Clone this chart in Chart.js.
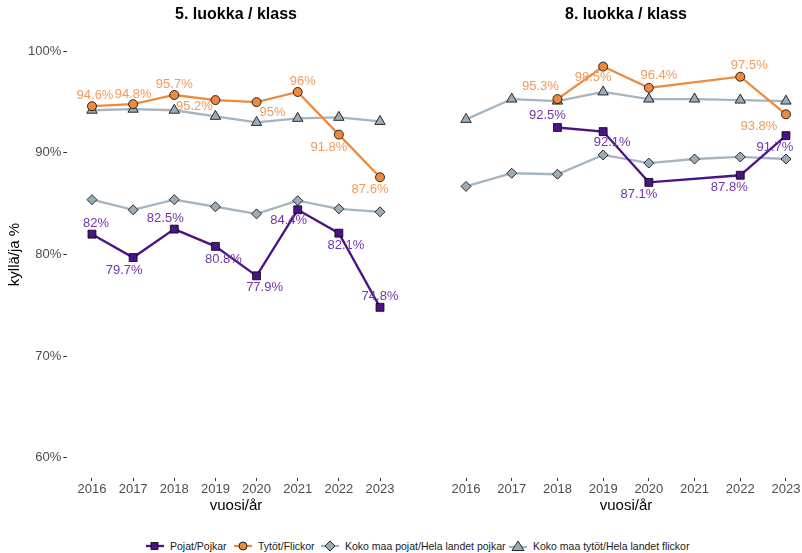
<!DOCTYPE html>
<html>
<head>
<meta charset="utf-8">
<script src="https://cdn.jsdelivr.net/npm/chart.js@4.4.1/dist/chart.umd.min.js"></script>
<style>
  html, body { margin: 0; padding: 0; background: #fff; }
  body { width: 802px; height: 553px; position: relative; overflow: hidden;
         font-family: "Liberation Sans", Arial, sans-serif; }
  #cLeft { position: absolute; left: 0; top: 0; }
  #cRight { position: absolute; left: 430px; top: 0; }
  .legend-item { position: absolute; top: 538px; height: 16px; display: flex; align-items: center;
                 font-size: 10.5px; color: #1a1a1a; white-space: nowrap; }
  .legend-item svg { margin-right: 6px; }
</style>
</head>
<body>
<canvas id="cLeft" width="410" height="520"></canvas>
<canvas id="cRight" width="384" height="520"></canvas>

<div class="legend-item" style="left:146px">
  <svg width="18" height="16"><line x1="0" y1="8" x2="18" y2="8" stroke="#4B1486" stroke-width="2.3"/><rect x="5" y="4.5" width="7" height="7" fill="#4B1486" stroke="#000" stroke-width="0.8"/></svg>Pojat/Pojkar
</div>
<div class="legend-item" style="left:234px">
  <svg width="18" height="16"><line x1="0" y1="8" x2="18" y2="8" stroke="#EE8A3F" stroke-width="2.3"/><circle cx="9" cy="8" r="4" fill="#EE8A3F" stroke="#000" stroke-width="0.8"/></svg>Tytöt/Flickor
</div>
<div class="legend-item" style="left:321px">
  <svg width="18" height="16"><line x1="0" y1="8" x2="18" y2="8" stroke="#A5B4BF" stroke-width="2.3"/><polygon points="9,3 14,8 9,13 4,8" fill="#9CACB7" stroke="#000" stroke-width="0.8"/></svg>Koko maa pojat/Hela landet pojkar
</div>
<div class="legend-item" style="left:509px">
  <svg width="18" height="16"><line x1="0" y1="9" x2="18" y2="9" stroke="#A5B4BF" stroke-width="2.3"/><polygon points="9,3 15,12.5 3,12.5" fill="#9CACB7" stroke="#000" stroke-width="0.8"/></svg>Koko maa tytöt/Hela landet flickor
</div>

<script>
// vuodet
const years = [2016, 2017, 2018, 2019, 2020, 2021, 2022, 2023];
const yTicks = [60, 70, 80, 90, 100];

// 5. luokka / klass
const g5Pojat = [82, 79.7, 82.5, 80.8, 77.9, 84.4, 82.1, 74.8];
const g5Tytot = [94.6, 94.8, 95.7, 95.2, 95, 96, 91.8, 87.6];
const g5MaaPojat = [85.4, 84.4, 85.4, 84.7, 84.0, 85.3, 84.5, 84.2];
const g5MaaTytot = [94.2, 94.3, 94.2, 93.6, 93.0, 93.4, 93.5, 93.1];

// 8. luokka / klass (2016-2017 ja 2021 puuttuu)
const g8Pojat = [null, null, 92.5, 92.1, 87.1, null, 87.8, 91.7];
const g8Tytot = [null, null, 95.3, 98.5, 96.4, null, 97.5, 93.8];
const g8MaaPojat = [86.7, 88.0, 87.9, 89.8, 89.0, 89.4, 89.6, 89.4];
const g8MaaTytot = [93.3, 95.3, 95.1, 96.0, 95.3, 95.3, 95.2, 95.1];

const FONT = '"Liberation Sans", Arial, sans-serif';
const PURPLE = "#4B1486", PURPLE_TXT = "#7134AE";
const ORANGE = "#EE8A3F", ORANGE_TXT = "#F29A5B";
const GREY_LINE = "#A5B4BF", GREY_PT = "#9CACB7";

// tekstien siirrot pisteestä (px), käsin sijoiteltu ettei mene päällekkäin
const shift5Pojat = [[4,-11],[-9,13],[-9,-11],[8,13],[8,12],[-9,11],[7,12],[0,-11]];
const shift5Tytot = [[3,-11],[0,-10],[0,-11],[-21,6],[16,10],[5,-11],[-10,13],[-10,12]];
const shift8Pojat = [null,null,[-10,-12],[9,11],[-10,12],null,[-11,12],[-11,12]];
const shift8Tytot = [null,null,[-17,-13],[-10,11],[10,-12],null,[9,-11],[-27,12]];

const toXY = arr => years.map((yr, i) => ({ x: yr, y: arr[i] }));

function buildDatasets(pojat, tytot, maaPojat, maaTytot, shiftP, shiftT) {
  // ensimmäinen dataset piirtyy päällimmäiseksi
  return [
    { data: toXY(pojat), borderColor: PURPLE, borderWidth: 2.3, spanGaps: true,
      pointStyle: "rect", pointRadius: 5.6, pointBackgroundColor: PURPLE,
      pointBorderColor: "#000", pointBorderWidth: 0.8,
      labelColor: PURPLE_TXT, labelShift: shiftP },
    { data: toXY(tytot), borderColor: ORANGE, borderWidth: 2.3, spanGaps: true,
      pointStyle: "circle", pointRadius: 4.5, pointBackgroundColor: ORANGE,
      pointBorderColor: "#000", pointBorderWidth: 0.8,
      labelColor: ORANGE_TXT, labelShift: shiftT },
    { data: toXY(maaPojat), borderColor: GREY_LINE, borderWidth: 2.3,
      pointStyle: "rectRot", pointRadius: 5, pointBackgroundColor: GREY_PT,
      pointBorderColor: "#000", pointBorderWidth: 0.8 },
    { data: toXY(maaTytot), borderColor: GREY_LINE, borderWidth: 2.3,
      pointStyle: "triangle", pointRadius: 6, pointBackgroundColor: GREY_PT,
      pointBorderColor: "#000", pointBorderWidth: 0.8 }
  ];
}

// arvotekstit + paneelin otsikot
const panelText = {
  id: "panelText",
  afterDatasetsDraw(chart) {
    const ctx = chart.ctx;
    chart.data.datasets.forEach((ds, i) => {
      if (!ds.labelShift) return;
      const meta = chart.getDatasetMeta(i);
      ctx.save();
      ctx.font = "13px " + FONT;
      ctx.fillStyle = ds.labelColor;
      ctx.textAlign = "center";
      ctx.textBaseline = "middle";
      meta.data.forEach((pt, j) => {
        const v = ds.data[j].y;
        if (v == null || !ds.labelShift[j]) return;
        const [dx, dy] = ds.labelShift[j];
        ctx.fillText(v + "%", pt.x + dx, pt.y + dy);
      });
      ctx.restore();
    });
  },
  afterDraw(chart, args, opts) {
    const ctx = chart.ctx;
    const a = chart.chartArea;
    const cx = (a.left + a.right) / 2;
    ctx.save();
    ctx.fillStyle = "#000";
    ctx.textAlign = "center";
    ctx.textBaseline = "middle";
    ctx.font = "bold 16px " + FONT;
    ctx.fillText(opts.title, cx, 15);
    ctx.font = "15px " + FONT;
    ctx.fillText("vuosi/år", cx, 506);
    if (opts.yTitle) {
      ctx.translate(15, (a.top + a.bottom) / 2);
      ctx.rotate(-Math.PI / 2);
      ctx.fillText(opts.yTitle, 0, 0);
    }
    ctx.restore();
  }
};

function makeChart(id, datasets, title, withY, padLeft, padRight) {
  return new Chart(document.getElementById(id), {
    type: "line",
    data: { datasets },
    plugins: [panelText],
    options: {
      responsive: false,
      animation: false,
      clip: false,
      layout: { autoPadding: false, padding: { top: 31, left: padLeft, right: padRight, bottom: 0 } },
      plugins: {
        legend: { display: false },
        tooltip: { enabled: false },
        panelText: { title, yTitle: withY ? "kyllä/ja %" : null }
      },
      scales: {
        x: {
          type: "linear", min: 2015.4, max: 2023.6,
          afterBuildTicks: s => { s.ticks = years.map(v => ({ value: v })); },
          afterFit: s => { s.height = 42; s.paddingLeft = 0; s.paddingRight = 0; },
          ticks: { color: "#4D4D4D", font: { size: 13, family: FONT }, padding: 1,
                   maxRotation: 0, autoSkip: false, callback: v => String(v) },
          grid: { drawOnChartArea: false, tickLength: 3, color: "#333" },
          border: { display: false }
        },
        y: {
          display: withY,
          min: 58, max: 102,
          afterBuildTicks: s => { s.ticks = yTicks.map(v => ({ value: v })); },
          afterFit: s => { s.width = withY ? 67.3 : 0; s.paddingTop = 0; s.paddingBottom = 0; },
          ticks: { color: "#4D4D4D", font: { size: 13, family: FONT }, padding: 2,
                   callback: v => v + "%" },
          grid: { drawOnChartArea: false, tickLength: 4, color: "#333" },
          border: { display: false }
        }
      }
    }
  });
}

makeChart("cLeft", buildDatasets(g5Pojat, g5Tytot, g5MaaPojat, g5MaaTytot, shift5Pojat, shift5Tytot),
  "5. luokka / klass", true, 0, 5.3);
makeChart("cRight", buildDatasets(g8Pojat, g8Tytot, g8MaaPojat, g8MaaTytot, shift8Pojat, shift8Tytot),
  "8. luokka / klass", false, 8.6, 0.6);
</script>
</body>
</html>
